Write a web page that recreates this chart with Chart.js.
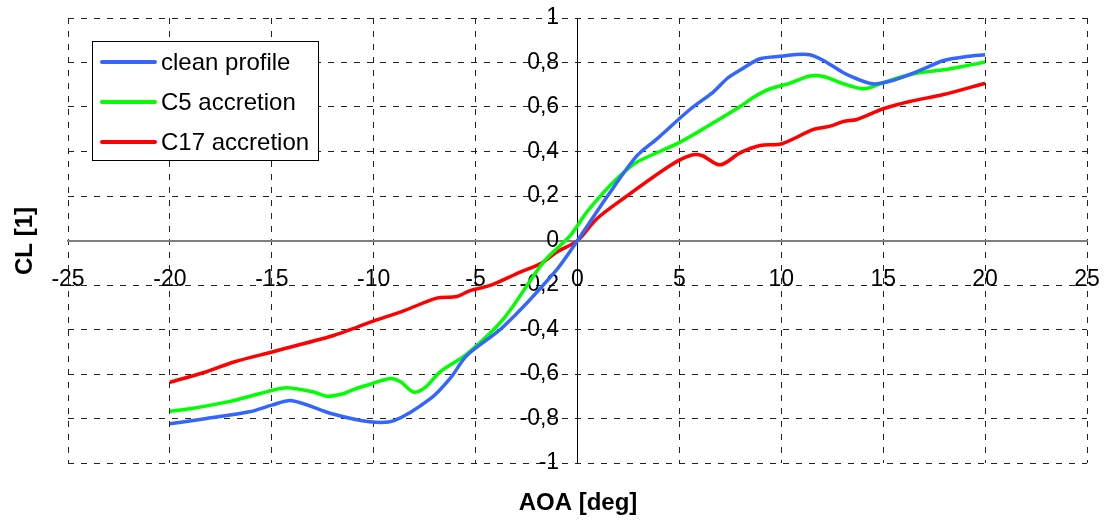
<!DOCTYPE html>
<html>
<head>
<meta charset="utf-8">
<script src="https://cdn.jsdelivr.net/npm/chart.js@4/dist/chart.umd.min.js"></script>
<style>
html,body{margin:0;padding:0;background:#fff;}
#wrap{width:1104px;height:520px;position:relative;}
</style>
</head>
<body>
<div id="wrap"><canvas id="c"></canvas></div>
<script>
// ---- data ----
const seriesNames = ['clean profile', 'C5 accretion', 'C17 accretion'];

const cleanAoa = [-20, -18.2, -16.1, -15.0, -14.0, -12.0, -10.2, -9.0, -7.2, -6.25, -5.43, -3.64, -1.1, 0, 1.44, 2.91, 3.9, 5.53, 6.66, 7.33, 8.0, 8.96, 10.1, 10.6, 11.4, 12.07, 13.05, 13.7, 14.5, 15.3, 16.2, 17.0, 17.96, 19.1, 20.0];
const cleanCl  = [-0.824, -0.80, -0.77, -0.74, -0.72, -0.78, -0.815, -0.81, -0.71, -0.62, -0.517, -0.388, -0.14, 0.0, 0.195, 0.38, 0.457, 0.59, 0.667, 0.727, 0.767, 0.817, 0.829, 0.835, 0.835, 0.809, 0.754, 0.727, 0.704, 0.715, 0.742, 0.772, 0.809, 0.827, 0.835];

const c5Aoa = [-20, -19.0, -17.05, -16.06, -15.0, -14.26, -12.95, -12.3, -11.5, -11.0, -10.2, -9.2, -8.7, -8.05, -7.47, -6.74, -5.43, -3.63, -1.67, -0.36, 0.46, 1.44, 2.1, 2.91, 5.04, 7.0, 8.0, 8.64, 9.46, 10.44, 11.4, 12.08, 12.9, 14.04, 14.85, 16.0, 16.98, 17.96, 19.1, 20.0];
const c5Cl  = [-0.767, -0.756, -0.723, -0.70, -0.674, -0.662, -0.681, -0.70, -0.689, -0.67, -0.647, -0.62, -0.634, -0.681, -0.66, -0.59, -0.51, -0.352, -0.097, 0.022, 0.128, 0.232, 0.292, 0.352, 0.442, 0.547, 0.603, 0.644, 0.682, 0.707, 0.739, 0.737, 0.709, 0.682, 0.704, 0.739, 0.757, 0.767, 0.786, 0.802];

const c17Aoa = [-20, -18.2, -16.9, -14.9, -11.97, -10.8, -10.2, -8.5, -6.9, -5.92, -5.27, -4.28, -2.81, -1.83, -1.01, 0, 0.95, 2.3, 4.55, 5.53, 6.1, 7.0, 8.0, 8.96, 10.03, 11.58, 12.4, 13.05, 13.7, 15.0, 16.3, 17.96, 20.0];
const c17Cl  = [-0.637, -0.59, -0.547, -0.499, -0.427, -0.389, -0.368, -0.315, -0.259, -0.252, -0.225, -0.202, -0.142, -0.105, -0.052, 0.0, 0.098, 0.192, 0.337, 0.382, 0.382, 0.34, 0.395, 0.427, 0.435, 0.499, 0.514, 0.535, 0.544, 0.592, 0.625, 0.656, 0.707];

const xTicks = [-25, -20, -15, -10, -5, 0, 5, 10, 15, 20, 25];
const yTicks = [-1, -0.8, -0.6, -0.4, -0.2, 0, 0.2, 0.4, 0.6, 0.8, 1];
const xTitle = 'AOA [deg]';
const yTitle = 'CL [1]';
const colors = ['#3366ff', '#00ff00', '#ff0000'];

function pts(xs, ys) { return xs.map((x, i) => ({x: x, y: ys[i]})); }
function fmt(v) { const r = Math.round(v * 10) / 10; return String(r).replace('.', ','); }
const isZero = (ctx) => ctx.tick && Math.abs(ctx.tick.value) < 1e-9;

const FONT = "'Liberation Sans', Arial, sans-serif";

const titlesAndLegend = {
  id: 'titlesAndLegend',
  afterDraw(chart) {
    const ctx = chart.ctx;
    ctx.save();
    ctx.fillStyle = '#000';
    ctx.font = 'bold 24px ' + FONT;
    ctx.textAlign = 'center';
    ctx.textBaseline = 'middle';
    ctx.fillText(xTitle, 578, 503);
    ctx.translate(25, 241);
    ctx.rotate(-Math.PI / 2);
    ctx.fillText(yTitle, 0, 0);
    ctx.restore();

    ctx.save();
    const bx = 92.5, by = 41.5, bw = 226, bh = 119;
    ctx.fillStyle = '#fff';
    ctx.fillRect(bx, by, bw, bh);
    ctx.strokeStyle = '#000';
    ctx.lineWidth = 1;
    ctx.strokeRect(bx, by, bw, bh);
    ctx.font = '24px ' + FONT;
    ctx.textAlign = 'left';
    ctx.textBaseline = 'middle';
    const rowsY = [62, 102, 142];
    chart.data.datasets.forEach((ds, i) => {
      ctx.strokeStyle = ds.borderColor;
      ctx.lineWidth = 4;
      ctx.lineCap = 'round';
      ctx.beginPath();
      ctx.moveTo(102, rowsY[i]);
      ctx.lineTo(155, rowsY[i]);
      ctx.stroke();
      ctx.fillStyle = '#000';
      ctx.fillText(ds.label, 161, rowsY[i] + 1);
    });
    ctx.restore();
  }
};

const noPad = (s) => { s.paddingLeft = 0; s.paddingRight = 0; s.paddingTop = 0; s.paddingBottom = 0; };

new Chart(document.getElementById('c'), {
  type: 'scatter',
  data: {
    datasets: [
      {label: seriesNames[0], data: pts(cleanAoa, cleanCl), borderColor: colors[0]},
      {label: seriesNames[1], data: pts(c5Aoa, c5Cl), borderColor: colors[1]},
      {label: seriesNames[2], data: pts(c17Aoa, c17Cl), borderColor: colors[2]}
    ].map(d => Object.assign(d, {showLine: true, pointRadius: 0, borderWidth: 3.5, tension: 0.3, fill: false, backgroundColor: d.borderColor}))
  },
  options: {
    responsive: true,
    maintainAspectRatio: false,
    animation: false,
    layout: {padding: {left: 68, top: 18, right: 17, bottom: 57}},
    plugins: {legend: {display: false}, tooltip: {enabled: false}},
    scales: {
      x: {
        type: 'linear',
        position: {y: 0},
        min: -25, max: 25,
        afterBuildTicks: (s) => { s.ticks = xTicks.map(v => ({value: v})); },
        afterFit: noPad,
        ticks: {color: '#000', font: {family: FONT, size: 23}, padding: 25, maxRotation: 0, autoSkip: false, callback: (v) => fmt(v)},
        grid: {color: (c) => isZero(c) ? '#000' : '#222', lineWidth: 1, drawTicks: false},
        border: {display: true, color: '#7f7f7f', width: 2, dash: (c) => isZero(c) ? [] : [6, 7]}
      },
      y: {
        type: 'linear',
        position: {x: -0.9},
        min: -1, max: 1,
        afterBuildTicks: (s) => { s.ticks = yTicks.map(v => ({value: v})); },
        afterFit: noPad,
        ticks: {color: '#000', font: {family: FONT, size: 23}, autoSkip: false, callback: (v) => fmt(v)},
        grid: {color: (c) => isZero(c) ? 'rgba(0,0,0,0)' : '#222', lineWidth: 1, drawTicks: false},
        border: {display: false, dash: [6, 7]}
      }
    }
  },
  plugins: [titlesAndLegend]
});
</script>
</body>
</html>
